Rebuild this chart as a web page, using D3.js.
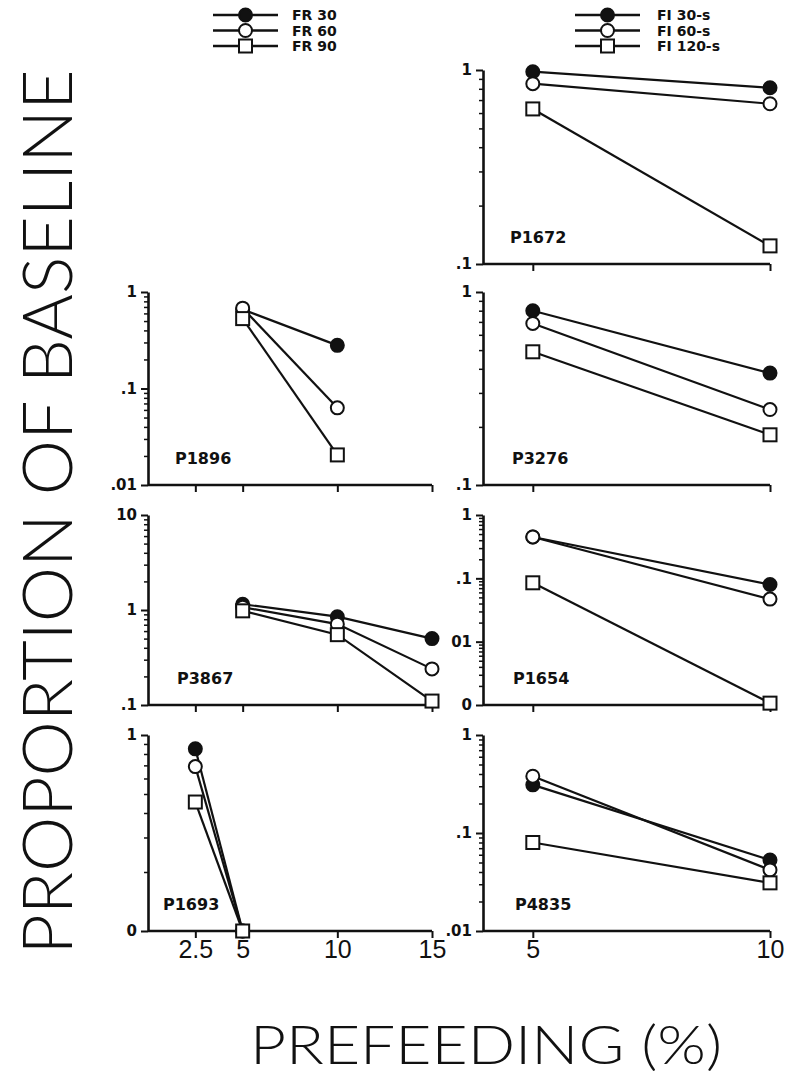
<!DOCTYPE html>
<html>
<head>
<meta charset="utf-8">
<script src="https://cdn.jsdelivr.net/npm/d3@7/dist/d3.min.js"></script>
<style>
body { margin: 0; background: #fff; }
svg { display: block; }
</style>
</head>
<body>
<svg id="fig" width="788" height="1076"></svg>
<script>
// legend names, one per series (30, 60, 90/120)
const frNames = ['FR 30', 'FR 60', 'FR 90'];
const fiNames = ['FI 30-s', 'FI 60-s', 'FI 120-s'];

// prefeeding ticks (%)
const frTicks = [2.5, 5, 10, 15];
const fiTicks = [5, 10];

// proportion of baseline, rows = FR30/FR60/FR90 or FI30/FI60/FI120
const P1896_x = [5, 10];
const P1896 = [[0.66, 0.28], [0.68, 0.063], [0.53, 0.0205]];
const P3867_x = [5, 10, 15];
const P3867 = [[1.15, 0.85, 0.50], [1.07, 0.71, 0.24], [0.98, 0.55, 0.11]];
const P1693_x = [2.5, 5];
const P1693 = [[0.85, 0.1], [0.69, 0.1], [0.455, 0.1]];

const FI_x = [5, 10];
const P1672 = [[0.98, 0.81], [0.85, 0.67], [0.63, 0.124]];
const P3276 = [[0.80, 0.38], [0.687, 0.246], [0.49, 0.182]];
const P1654 = [[0.45, 0.080], [0.45, 0.047], [0.085, 0.00107]];
const P4835 = [[0.31, 0.053], [0.38, 0.042], [0.080, 0.031]];

// y tick values and their printed labels
const P1672_yt = [1, 0.1],            P1672_yl = ['1', '.1'];
const P1896_yt = [1, 0.1, 0.01],      P1896_yl = ['1', '.1', '.01'];
const P3276_yt = [1, 0.1],            P3276_yl = ['1', '.1'];
const P3867_yt = [10, 1, 0.1],        P3867_yl = ['10', '1', '.1'];
const P1654_yt = [1, 0.1, 0.01, 0.001], P1654_yl = ['1', '.1', '01', '0'];
const P1693_yt = [1, 0.1],            P1693_yl = ['1', '0'];
const P4835_yt = [1, 0.1, 0.01],      P4835_yl = ['1', '.1', '.01'];

const svg = d3.select('#fig');
const ink = '#111';
const boldFont = '"DejaVu Sans", Verdana, sans-serif';

// columns
const xLeft = d3.scaleLinear().domain([0, 15]).range([148, 432]);
const xRight = d3.scaleLinear().domain([3.95, 10]).range([483, 770]);

const panels = [
  {name: 'P1672', x: xRight, xt: fiTicks, xs: FI_x,    d: P1672, yt: P1672_yt, yl: P1672_yl, top: 70,  bot: 264, lx: 510, bottom: false},
  {name: 'P1896', x: xLeft,  xt: frTicks, xs: P1896_x, d: P1896, yt: P1896_yt, yl: P1896_yl, top: 292, bot: 485, lx: 175, bottom: false},
  {name: 'P3276', x: xRight, xt: fiTicks, xs: FI_x,    d: P3276, yt: P3276_yt, yl: P3276_yl, top: 292, bot: 485, lx: 512, bottom: false},
  {name: 'P3867', x: xLeft,  xt: frTicks, xs: P3867_x, d: P3867, yt: P3867_yt, yl: P3867_yl, top: 515, bot: 705, lx: 177, bottom: false},
  {name: 'P1654', x: xRight, xt: fiTicks, xs: FI_x,    d: P1654, yt: P1654_yt, yl: P1654_yl, top: 515, bot: 705, lx: 513, bottom: false},
  {name: 'P1693', x: xLeft,  xt: frTicks, xs: P1693_x, d: P1693, yt: P1693_yt, yl: P1693_yl, top: 735, bot: 931, lx: 163, bottom: true},
  {name: 'P4835', x: xRight, xt: fiTicks, xs: FI_x,    d: P4835, yt: P4835_yt, yl: P4835_yl, top: 735, bot: 931, lx: 515, bottom: true}
];

panels.forEach(drawPanel);

function drawPanel(p) {
  const g = svg.append('g').attr('id', p.name);
  const lo = d3.min(p.yt), hi = d3.max(p.yt);
  const y = d3.scaleLog().domain([lo, hi]).range([p.bot, p.top]);
  const x0 = p.x.range()[0];

  // minor log ticks
  let minors = [];
  for (let dec = lo; dec < hi; dec *= 10) {
    for (let k = 2; k <= 9; k++) minors.push(dec * k);
  }
  g.append('g')
    .attr('transform', 'translate(' + x0 + ',0)')
    .call(d3.axisLeft(y).tickValues(minors).tickSize(4).tickSizeOuter(0).tickFormat(''))
    .call(a => a.select('.domain').remove())
    .call(a => a.selectAll('line').attr('stroke', ink).attr('stroke-width', 1.5));

  // major ticks + labels
  g.append('g')
    .attr('transform', 'translate(' + x0 + ',0)')
    .call(d3.axisLeft(y).tickValues(p.yt).tickSize(7).tickSizeOuter(0)
      .tickFormat((d, i) => p.yl[i]))
    .call(a => a.select('.domain').attr('stroke', ink).attr('stroke-width', 2.6))
    .call(a => a.selectAll('line').attr('stroke', ink).attr('stroke-width', 2))
    .call(a => a.selectAll('text')
      .attr('fill', ink).attr('x', -11)
      .style('font-family', boldFont).style('font-weight', 'bold').style('font-size', '15px'));

  // x axis
  const xa = g.append('g')
    .attr('transform', 'translate(0,' + p.bot + ')')
    .call(d3.axisBottom(p.x).tickValues(p.xt).tickSize(7).tickSizeOuter(0)
      .tickFormat(p.bottom ? d3.format('') : ''));
  xa.select('.domain').attr('stroke', ink).attr('stroke-width', 2.6)
    .attr('d', 'M' + x0 + ',0H' + p.x(d3.max(p.xt)));
  xa.selectAll('line').attr('stroke', ink).attr('stroke-width', 2);
  xa.selectAll('text')
    .attr('fill', ink).attr('y', 0).attr('dy', 27)
    .style('font-family', '"Liberation Sans", Arial, sans-serif')
    .style('font-size', '25px');

  // lines
  const line = d3.line().x((d, i) => p.x(p.xs[i])).y(d => y(d));
  g.selectAll('path.series')
    .data(p.d)
    .join('path')
    .attr('class', 'series')
    .attr('d', line)
    .attr('fill', 'none')
    .attr('stroke', ink)
    .attr('stroke-width', 2.2);

  // markers: filled circle, open circle, open square
  p.d.forEach((s, k) => {
    s.forEach((v, i) => drawMarker(g, k, p.x(p.xs[i]), y(v)));
  });

  g.append('text')
    .attr('x', p.lx).attr('y', p.bot - 21)
    .attr('fill', ink)
    .style('font-family', boldFont).style('font-weight', 'bold').style('font-size', '16px')
    .text(p.name);
}

function drawMarker(g, k, cx, cy) {
  if (k == 2) {
    g.append('rect')
      .attr('x', cx - 6.5).attr('y', cy - 6.5)
      .attr('width', 13).attr('height', 13)
      .attr('fill', '#fff').attr('stroke', ink).attr('stroke-width', 2);
  } else {
    g.append('circle')
      .attr('cx', cx).attr('cy', cy).attr('r', 6.5)
      .attr('fill', k == 0 ? ink : '#fff')
      .attr('stroke', ink).attr('stroke-width', 2);
  }
}

// legends
drawLegend(frNames, 213, 278, 292);
drawLegend(fiNames, 575, 640, 657);

function drawLegend(names, xa, xb, xt) {
  const lg = svg.append('g');
  const rowY = d3.scalePoint().domain(names).range([15, 46]);
  names.forEach((n, k) => {
    const yy = rowY(n);
    lg.append('line')
      .attr('x1', xa).attr('x2', xb).attr('y1', yy).attr('y2', yy)
      .attr('stroke', ink).attr('stroke-width', 2.4);
    drawMarker(lg, k, (xa + xb) / 2, yy);
    lg.append('text')
      .attr('x', xt).attr('y', yy).attr('dy', '0.36em')
      .attr('fill', ink)
      .style('font-family', boldFont).style('font-weight', 'bold').style('font-size', '14px')
      .text(n);
  });
}

// axis titles
svg.append('text')
  .attr('transform', 'translate(72,512) rotate(-90)')
  .attr('text-anchor', 'middle')
  .attr('textLength', 885).attr('lengthAdjust', 'spacingAndGlyphs')
  .attr('fill', ink)
  .style('font-family', 'Lato, "Open Sans", sans-serif').style('font-weight', 300).style('font-size', '68px')
  .text('PROPORTION OF BASELINE');

svg.append('text')
  .attr('x', 486).attr('y', 1064)
  .attr('text-anchor', 'middle')
  .attr('textLength', 472).attr('lengthAdjust', 'spacingAndGlyphs')
  .attr('fill', ink)
  .style('font-family', 'Lato, "Open Sans", sans-serif').style('font-weight', 300).style('font-size', '54px')
  .text('PREFEEDING (%)');
</script>
</body>
</html>
